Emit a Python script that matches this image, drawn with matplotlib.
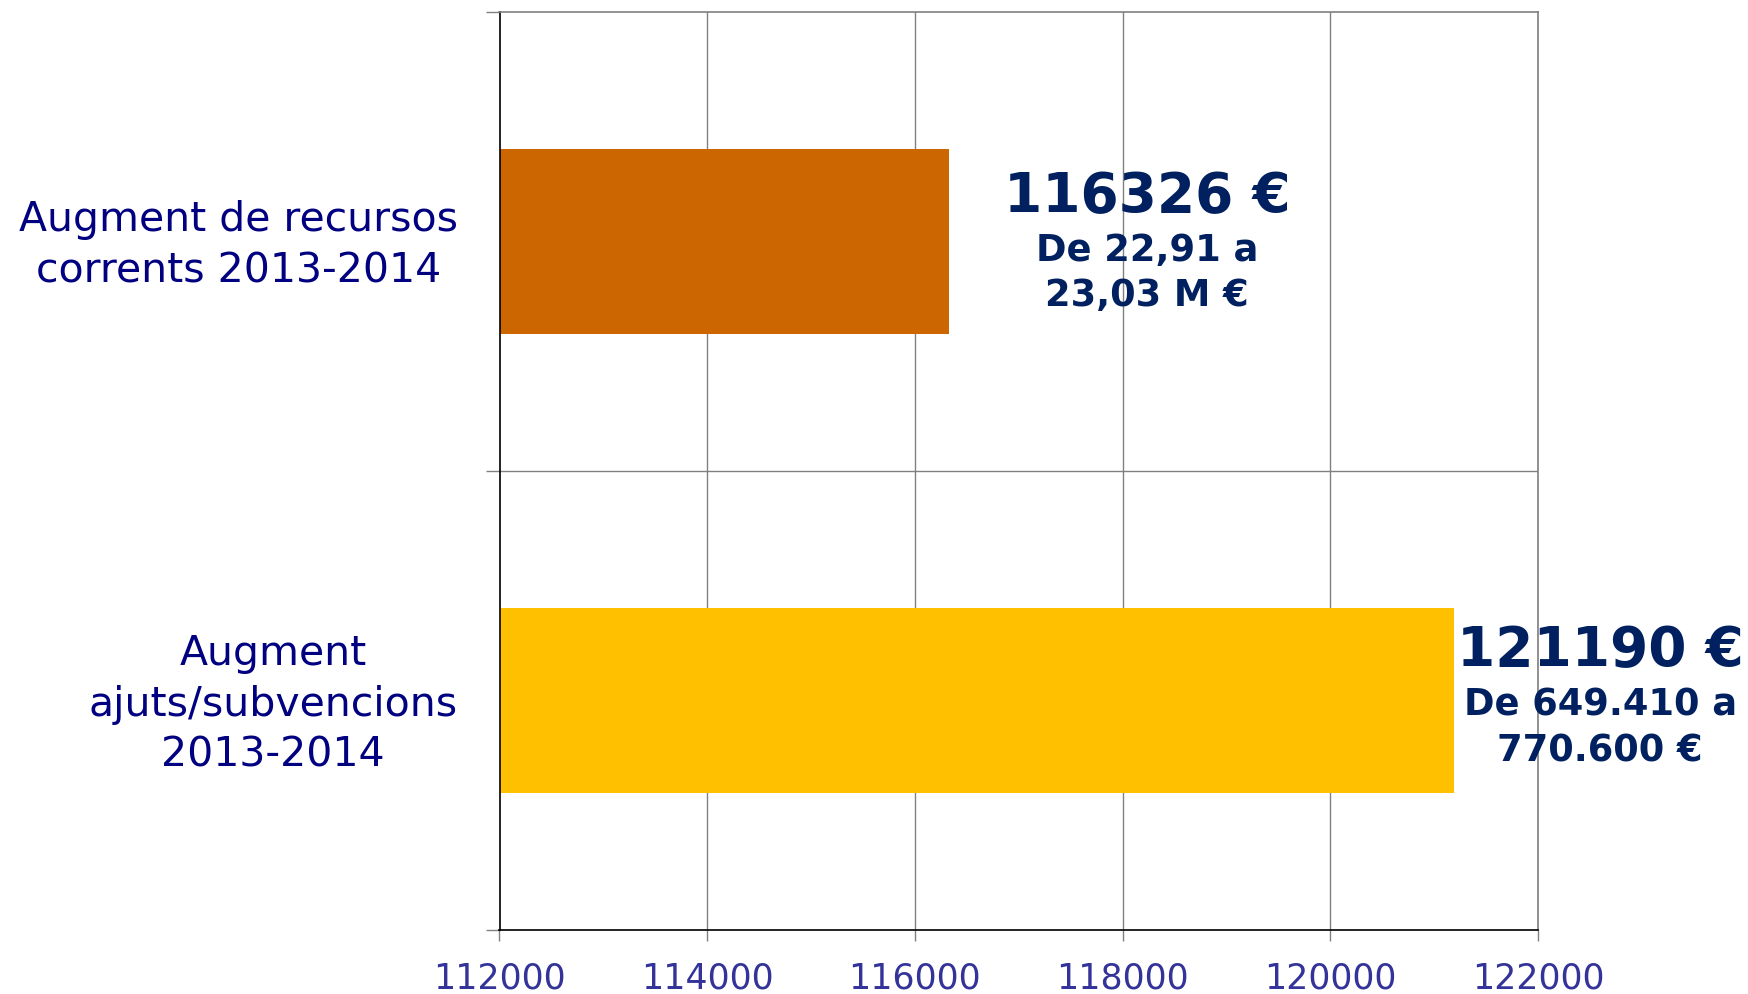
"""Horizontal bar chart: increase of current resources vs grants, 2013-2014."""
import matplotlib
matplotlib.use("Agg")
import matplotlib.pyplot as plt
from matplotlib.ticker import FixedLocator

# Categories top to bottom, with their values.
CATEGORIES = [
    "Augment de recursos\ncorrents 2013-2014",
    "Augment\najuts/subvencions\n2013-2014",
]
VALUES = [116326, 121190]
BIG_LABELS = ["116326 €", "121190 €"]
SUB_LABELS = [("De 22,91 a", "23,03 M €"), ("De 649.410 a", "770.600 €")]

XTICKS = [112000, 114000, 116000, 118000, 120000, 122000]

BAR_COLOURS = ["#CC6600", "#FFC000"]
LABEL_COLOUR = "#002060"
CAT_COLOUR = "#000080"
TICK_COLOUR = "#333399"
GRID_COLOUR = "#808080"

# x centre (data units) and vertical shift (points) of each annotation block
LABEL_X = [118235, 122600]
LABEL_DY = [-5.5, -2.5]


def main():
    fig = plt.figure(figsize=(17.48, 9.95), dpi=100)
    ax = fig.add_axes([499.5 / 1748, 1 - 931 / 995, 1038.5 / 1748, 918 / 995])

    ypos = [1, 0]
    ax.barh(ypos, [v - XTICKS[0] for v in VALUES], left=XTICKS[0], height=0.405,
            color=BAR_COLOURS, zorder=2)

    ax.set_xlim(XTICKS[0], XTICKS[-1])
    ax.set_ylim(-0.5, 1.5)

    # category labels drawn by hand (right-aligned block, centred lines),
    # ticks only at the category boundaries
    ax.set_yticks([])
    for y, cat in zip(ypos, CATEGORIES):
        ax.annotate(cat, (0, y), xycoords=("axes fraction", "data"),
                    xytext=(-30, -2.3), textcoords="offset points",
                    ha="right", va="center", multialignment="center",
                    fontsize=29.5, color=CAT_COLOUR, linespacing=1.35)
    ax.yaxis.set_minor_locator(FixedLocator([-0.5, 0.5, 1.5]))
    ax.tick_params(axis="y", which="minor", length=10, color=GRID_COLOUR, width=1)

    ax.set_xticks(XTICKS)
    ax.set_xticklabels([str(t) for t in XTICKS], fontsize=25, color=TICK_COLOUR)
    ax.tick_params(axis="x", length=8, color=GRID_COLOUR, width=1, pad=14)

    ax.grid(axis="x", color=GRID_COLOUR, linewidth=1, zorder=1)
    ax.axhline(0.5, color=GRID_COLOUR, linewidth=1, zorder=1)

    for side in ("top", "right"):
        ax.spines[side].set_color(GRID_COLOUR)
        ax.spines[side].set_linewidth(1.2)
    for side in ("left", "bottom"):
        ax.spines[side].set_color("black")
        ax.spines[side].set_linewidth(1.2)

    for y, x, dy, big, (l1, l2) in zip(ypos, LABEL_X, LABEL_DY, BIG_LABELS, SUB_LABELS):
        ax.annotate(big, (x, y), xytext=(0, dy + 38.5), textcoords="offset points",
                    ha="center", va="center", fontsize=39.5, fontweight="bold",
                    color=LABEL_COLOUR, annotation_clip=False, zorder=3)
        ax.annotate(l1, (x, y), xytext=(0, dy), textcoords="offset points",
                    ha="center", va="center", fontsize=26.5, fontweight="bold",
                    color=LABEL_COLOUR, annotation_clip=False, zorder=3)
        ax.annotate(l2, (x, y), xytext=(0, dy - 33), textcoords="offset points",
                    ha="center", va="center", fontsize=26.5, fontweight="bold",
                    color=LABEL_COLOUR, annotation_clip=False, zorder=3)

    fig.savefig("out.png", dpi=100)


if __name__ == "__main__":
    main()
